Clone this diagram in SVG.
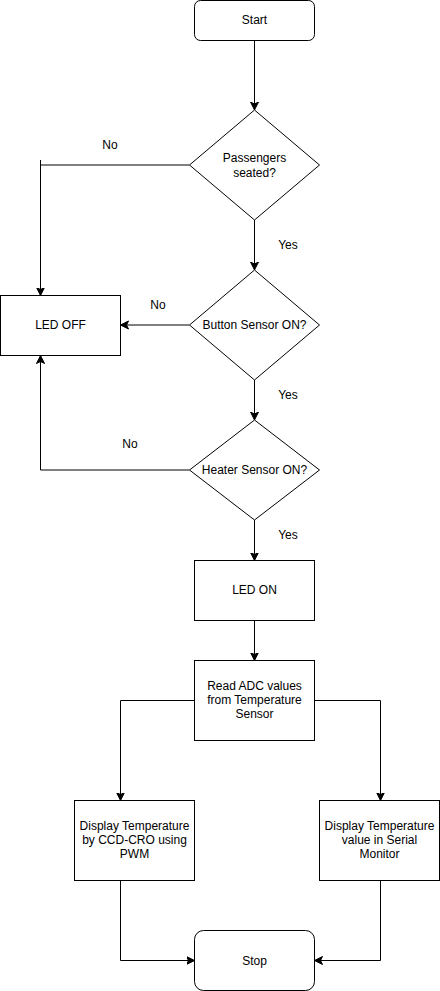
<svg xmlns="http://www.w3.org/2000/svg" width="440" height="991" viewBox="0 0 440 991">
<style>
.n{fill:#fff;stroke:#000;stroke-width:1}
.t{font-family:"Liberation Sans",Arial,sans-serif;font-size:12px;fill:#000;text-anchor:middle;dominant-baseline:central}
.e{fill:none;stroke:#000;stroke-width:1}
</style>
<defs>
<marker id="a" markerUnits="userSpaceOnUse" markerWidth="10" markerHeight="10" refX="8" refY="4.5" orient="auto" viewBox="0 0 10 9">
<path d="M0,0.5 L8,4.5 L0,8.5 L2,4.5 Z" fill="#000" stroke="#000" stroke-width="1"/>
</marker>
</defs>
<rect width="440" height="991" fill="#fff"/>
<g id="edges">
<path class="e" d="M254.5,40.5 V110" marker-end="url(#a)"/>
<path class="e" d="M189.5,165 H40.5"/>
<path class="e" d="M40.5,160 V295.5" marker-end="url(#a)"/>
<path class="e" d="M254.5,220 V270" marker-end="url(#a)"/>
<path class="e" d="M189.5,325 H120.5" marker-end="url(#a)"/>
<path class="e" d="M254.5,380 V420" marker-end="url(#a)"/>
<path class="e" d="M189.5,470 H40.5 V355.5" marker-end="url(#a)"/>
<path class="e" d="M254.5,520 V560.5" marker-end="url(#a)"/>
<path class="e" d="M254.5,620.5 V660.5" marker-end="url(#a)"/>
<path class="e" d="M194.5,700.5 H120.5 V800.5" marker-end="url(#a)"/>
<path class="e" d="M314.5,700.5 H380.5 V800.5" marker-end="url(#a)"/>
<path class="e" d="M120.5,880.5 V960.5 H194.5" marker-end="url(#a)"/>
<path class="e" d="M380.5,880.5 V960.5 H314.5" marker-end="url(#a)"/>
<text class="t" x="110" y="145">No</text>
<text class="t" x="288" y="245">Yes</text>
<text class="t" x="158" y="305">No</text>
<text class="t" x="288" y="395">Yes</text>
<text class="t" x="130" y="444">No</text>
<text class="t" x="288" y="535">Yes</text>
</g>
<g id="start"><rect class="n" x="194.5" y="0.5" width="120" height="40" rx="6"/><text class="t" x="254.5" y="20">Start</text></g>
<g id="passengers"><polygon class="n" points="254.5,110 319.5,165 254.5,220 189.5,165"/><text class="t" x="254.5" y="158">Passengers</text><text class="t" x="254.5" y="172.5">seated?</text></g>
<g id="button"><polygon class="n" points="254.5,270 319.5,325 254.5,380 189.5,325"/><text class="t" x="254.5" y="325">Button Sensor ON?</text></g>
<g id="ledoff"><rect class="n" x="0.5" y="295.5" width="120" height="60"/><text class="t" x="60.5" y="325">LED OFF</text></g>
<g id="heater"><polygon class="n" points="254.5,420 319.5,470 254.5,520 189.5,470"/><text class="t" x="254.5" y="470">Heater Sensor ON?</text></g>
<g id="ledon"><rect class="n" x="194.5" y="560.5" width="120" height="60"/><text class="t" x="254.5" y="590">LED ON</text></g>
<g id="readadc"><rect class="n" x="194.5" y="660.5" width="120" height="80"/><text class="t" x="254.5" y="685.5">Read ADC values</text><text class="t" x="254.5" y="699.8">from Temperature</text><text class="t" x="254.5" y="714.3">Sensor</text></g>
<g id="displaycro"><rect class="n" x="74.5" y="800.5" width="120" height="80"/><text class="t" x="134.5" y="826">Display Temperature</text><text class="t" x="134.5" y="840">by CCD-CRO using</text><text class="t" x="134.5" y="854.3">PWM</text></g>
<g id="displayserial"><rect class="n" x="319.5" y="800.5" width="120" height="80"/><text class="t" x="379.5" y="826">Display Temperature</text><text class="t" x="379.5" y="840">value in Serial</text><text class="t" x="379.5" y="854.3">Monitor</text></g>
<g id="stop"><rect class="n" x="194.5" y="930.5" width="120" height="60" rx="9"/><text class="t" x="254.5" y="960.5">Stop</text></g>
</svg>
